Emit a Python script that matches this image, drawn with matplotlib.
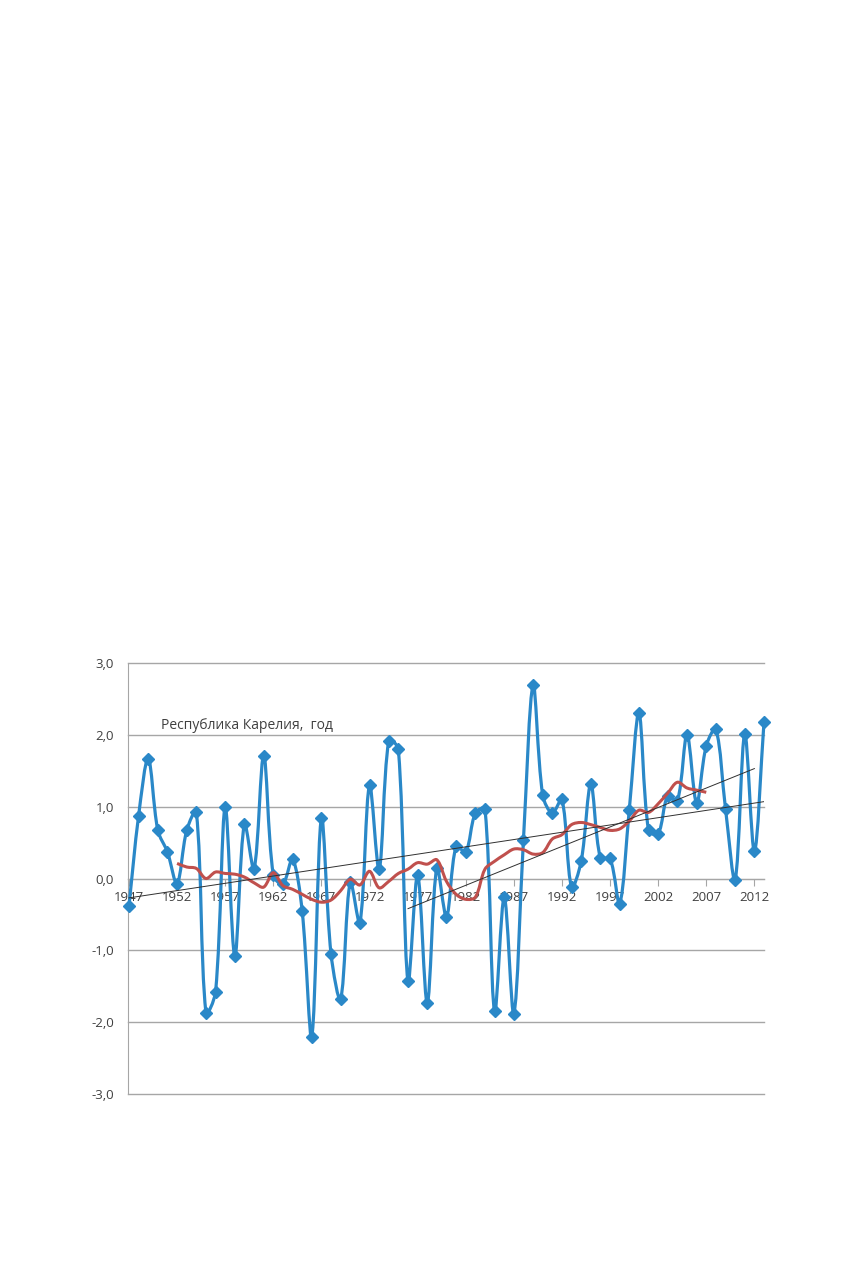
import numpy as np
import matplotlib.pyplot as plt
from matplotlib.path import Path
from matplotlib.patches import PathPatch

plt.rcParams['font.family'] = ['Open Sans', 'DejaVu Sans']

# annual anomalies, Republic of Karelia
years = list(range(1947, 2014))
anomaly = [-0.38, 0.87, 1.67, 0.67, 0.37, -0.07, 0.67, 0.93, -1.87, -1.58,
           0.99, -1.08, 0.76, 0.13, 1.71, 0.05, -0.08, 0.27, -0.45, -2.20,
           0.84, -1.05, -1.68, -0.05, -0.62, 1.30, 0.13, 1.92, 1.80, -1.43,
           0.05, -1.73, 0.15, -0.53, 0.45, 0.37, 0.91, 0.97, -1.85, -0.26,
           -1.88, 0.54, 2.69, 1.16, 0.91, 1.10, -0.12, 0.24, 1.31, 0.28,
           0.28, -0.35, 0.96, 2.30, 0.67, 0.62, 1.15, 1.08, 2.00, 1.05,
           1.85, 2.08, 0.97, -0.02, 2.01, 0.38, 2.18]

# smoothed (moving average) curve
ma_years = list(range(1952, 2008))
ma_vals = [0.21, 0.16, 0.14, 0.00, 0.09, 0.07, 0.06, 0.02, -0.06, -0.12,
           0.08, -0.10, -0.15, -0.22, -0.29, -0.33, -0.30, -0.17, -0.01, -0.09,
           0.10, -0.13, -0.04, 0.07, 0.13, 0.22, 0.20, 0.26, -0.04, -0.22,
           -0.29, -0.26, 0.13, 0.24, 0.33, 0.41, 0.40, 0.34, 0.36, 0.55,
           0.61, 0.75, 0.78, 0.75, 0.71, 0.67, 0.69, 0.80, 0.95, 0.92,
           1.04, 1.19, 1.34, 1.26, 1.23, 1.20]

# linear trends (end points)
trend_all_x = [1947, 2013]
trend_all_y = [-0.27, 1.07]
trend_late_x = [1976, 2012]
trend_late_y = [-0.42, 1.53]

title = 'Республика Карелия,  год'
yticks = [-3, -2, -1, 0, 1, 2, 3]
ytick_labels = ['-3,0', '-2,0', '-1,0', '0,0', '1,0', '2,0', '3,0']
xticks = list(range(1947, 2013, 5))

# rough screen scale of one x / y unit, used only to weight the curve handles
XS, YS = 9.6, 71.8


def smooth_path(xs, ys, t=1 / 3.0):
    # bezier segments, handle length weighted by neighbouring segment length
    pts = np.column_stack([xs, ys]).astype(float)
    n = len(pts)
    scr = pts * [XS, YS]
    seg = np.hypot(*(np.diff(scr, axis=0).T))
    before = [pts[0]] * n
    after = [pts[-1]] * n
    for i in range(1, n - 1):
        tan = pts[i + 1] - pts[i - 1]
        d0, d1 = seg[i - 1], seg[i]
        before[i] = pts[i] - tan * t * d0 / (d0 + d1)
        after[i] = pts[i] + tan * t * d1 / (d0 + d1)
    after[0] = pts[0] + (pts[1] - pts[0]) * t
    before[-1] = pts[-1] - (pts[-1] - pts[-2]) * t
    verts = [pts[0]]
    codes = [Path.MOVETO]
    for i in range(n - 1):
        verts += [after[i], before[i + 1], pts[i + 1]]
        codes += [Path.CURVE4] * 3
    return Path(verts, codes)


fig = plt.figure(figsize=(8.56, 12.68), dpi=100)
ax = fig.add_axes([128 / 856, 1 - 1094 / 1268, 636 / 856, 431 / 1268])

ax.set_xlim(1946.9, 2013.0)
ax.set_ylim(-3, 3)

ax.set_yticks(yticks)
ax.set_yticklabels(ytick_labels)
ax.yaxis.grid(True, color='#a6a6a6', linewidth=1.0)
for gl in ax.get_ygridlines():
    gl.set_clip_on(False)
ax.set_axisbelow(True)
ax.tick_params(axis='y', length=0, pad=10, labelsize=9.5, labelcolor='#404040')

ax.set_xticks(xticks)
ax.set_xticklabels([str(y) for y in xticks])
ax.tick_params(axis='x', length=5, width=0.8, color='#a6a6a6', direction='out',
               pad=4, labelsize=9.5, labelcolor='#404040')

for s in ['top', 'right']:
    ax.spines[s].set_visible(False)
ax.spines['bottom'].set_position(('data', 0))
ax.spines['bottom'].set_color('#a6a6a6')
ax.spines['left'].set_color('#a6a6a6')

blue = '#2a88c8'
red = '#c0504d'

ax.add_patch(PathPatch(smooth_path(years, anomaly), fill=False,
                       edgecolor=blue, linewidth=2.3, zorder=3, clip_on=False))
ax.plot(years, anomaly, linestyle='none', marker='D', markersize=6.5,
        color=blue, zorder=4, clip_on=False)

ax.add_patch(PathPatch(smooth_path(ma_years, ma_vals), fill=False,
                       edgecolor=red, linewidth=2.2, zorder=5))

ax.plot(trend_all_x, trend_all_y, color='#303030', linewidth=0.7, zorder=6)
ax.plot(trend_late_x, trend_late_y, color='#303030', linewidth=0.7, zorder=6)

ax.text(0.052, 0.856, title, transform=ax.transAxes, fontsize=10,
        color='#404040', va='center', ha='left')

fig.savefig('out.png', dpi=100)
